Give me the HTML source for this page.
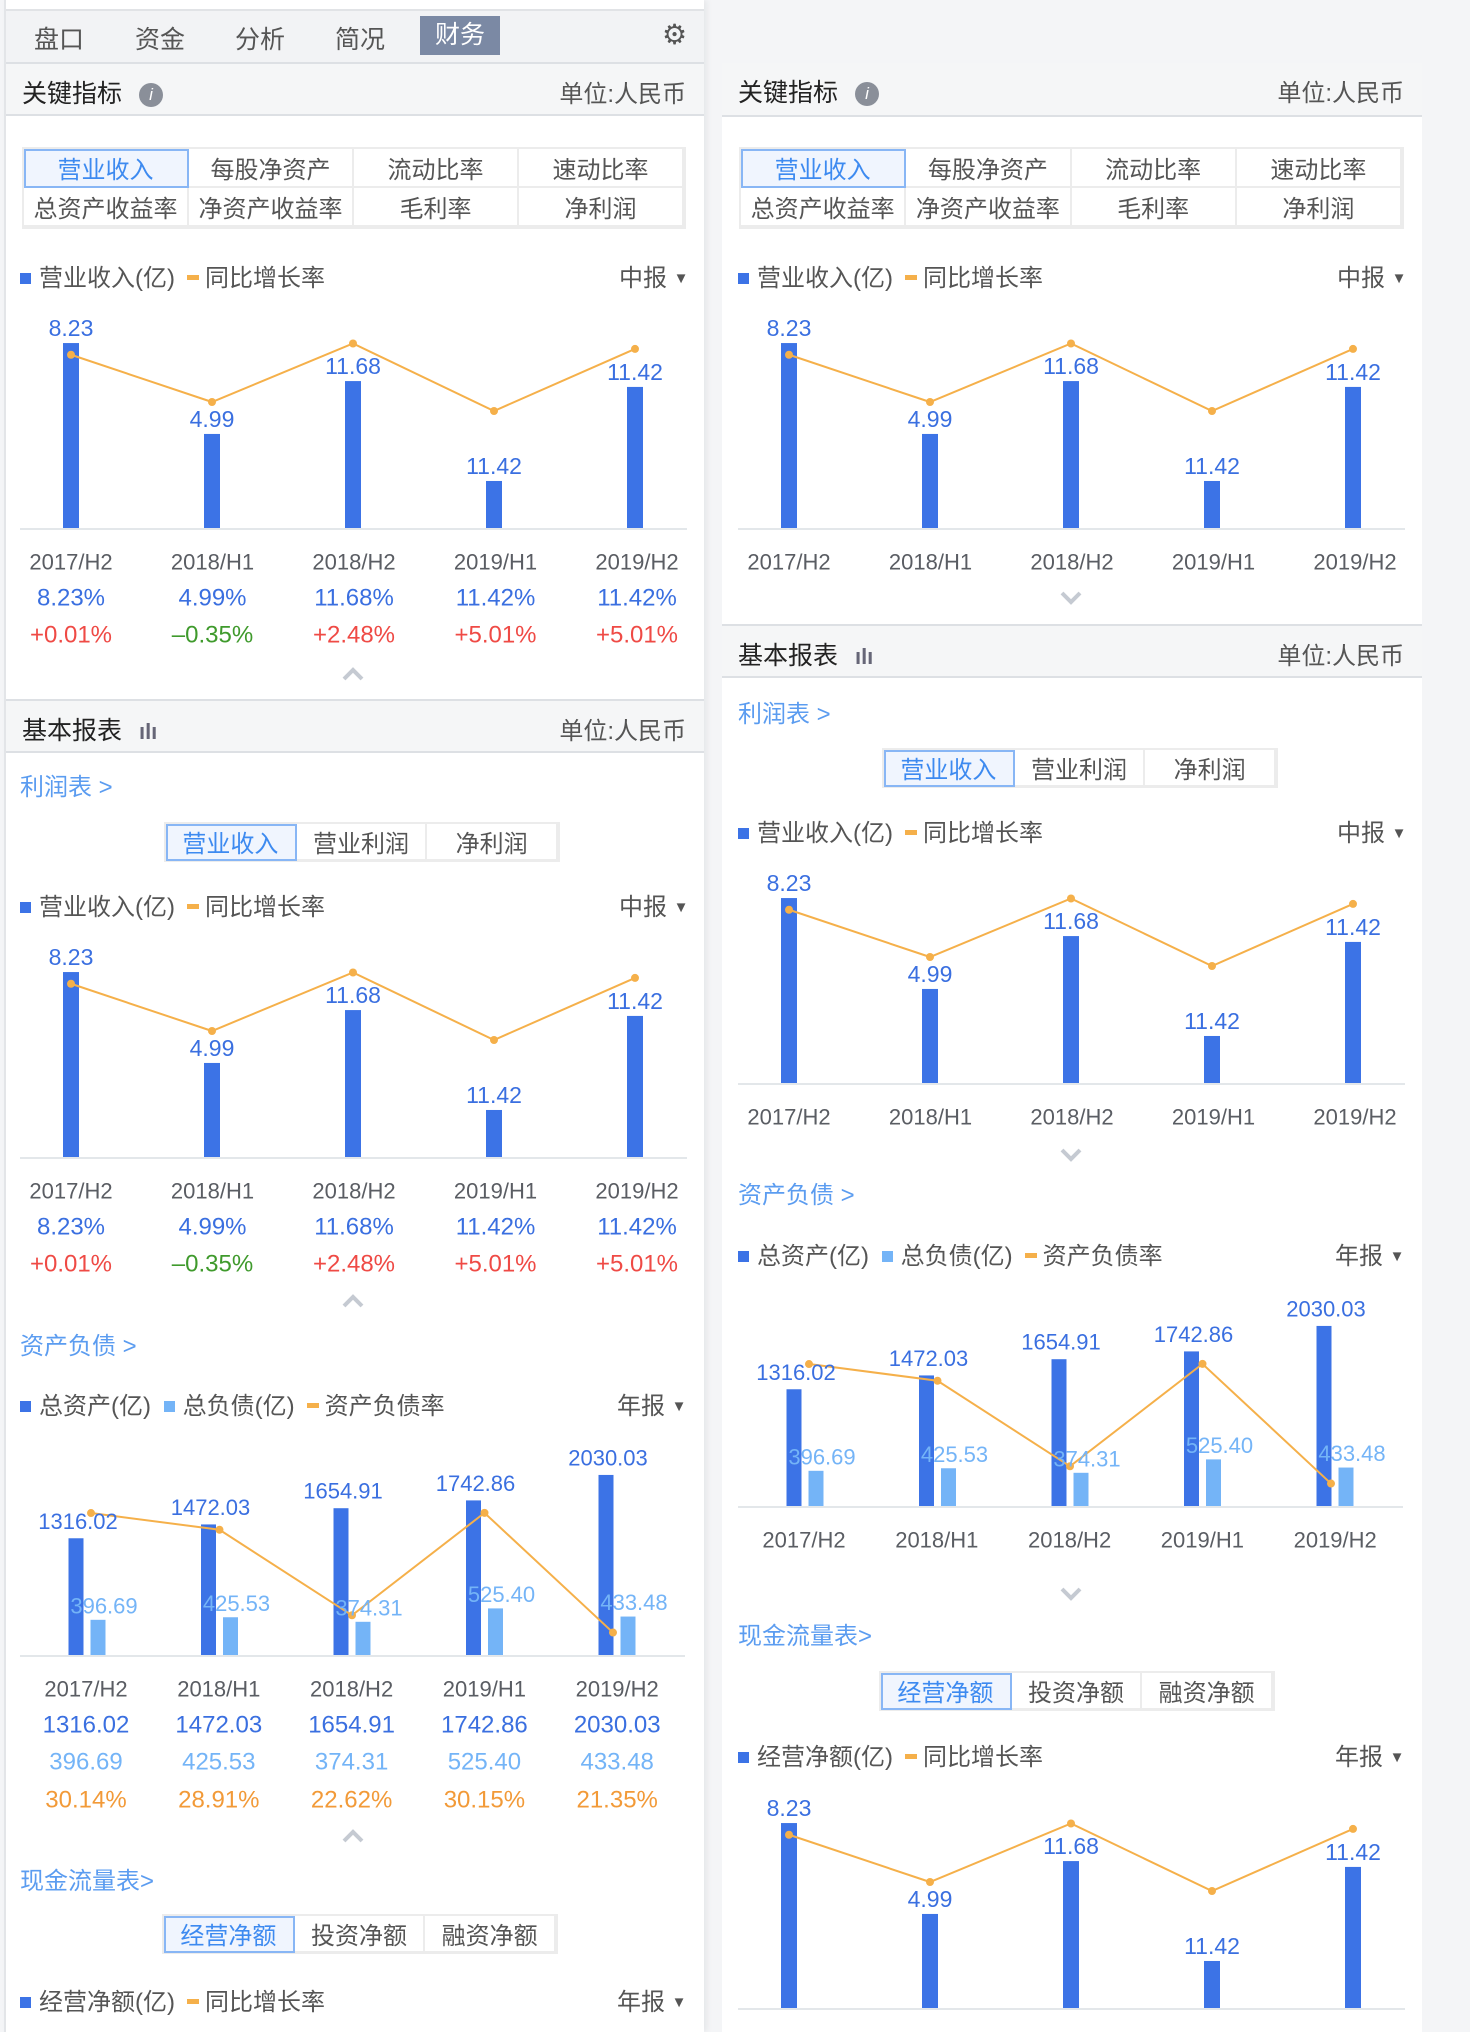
<!DOCTYPE html>
<html><head><meta charset="utf-8">
<style>
*{box-sizing:border-box;margin:0;padding:0}
body{width:1470px;height:2032px;position:relative;overflow:hidden;background:#f4f5f7;font-family:"Liberation Sans","Noto Sans CJK SC",sans-serif;color:#444}
.abs{position:absolute}
.panel{position:absolute;background:#fff}
.hdr{position:absolute;background:#f5f6f7;border-top:2px solid #dde0e4;border-bottom:2px solid #dde0e4;height:54px}
.hdr .t{position:absolute;left:16px;top:10px;font-size:25px;color:#222}
.hdr .u{position:absolute;right:18px;top:10px;font-size:24px;color:#555}
.grid{position:absolute;border:2px solid #ececec;display:grid;grid-template-columns:repeat(4,1fr);grid-template-rows:1fr 1fr}
.grid div,.seg div{display:flex;align-items:center;justify-content:center;font-size:24px;color:#555;border-right:2px solid #ececec;border-bottom:2px solid #ececec}
.sel{background:#f0f5fe;color:#3d8af0 !important;outline:2px solid #88b6f5;outline-offset:-2px}
.seg{position:absolute;border:2px solid #ececec;display:grid;grid-template-columns:1fr 1fr 1fr;height:40px;width:396px}
.link{position:absolute;font-size:24px;color:#5b9cf0}
.leg{position:absolute;font-size:24px;color:#555;white-space:nowrap}
.leg i{display:inline-block;width:11px;height:11px;margin-right:8px;vertical-align:2px}
.leg b{display:inline-block;width:12px;height:5px;background:#f5b04a;margin:0 6px 0 12px;vertical-align:6px}
.rpt{position:absolute;font-size:24px;color:#555}
.rpt span{font-size:15px;vertical-align:3px}
svg{position:absolute;left:0;top:0}
</style></head><body>
<div class="panel" style="left:4px;top:0;width:700px;height:2032px;border-left:2px solid #e3e5e8;box-shadow:3px 0 6px rgba(0,0,0,.06)"></div>
<div class="panel" style="left:722px;top:63px;width:700px;height:1969px"></div>

<div class="abs" style="left:6px;top:9px;width:698px;height:53px;background:#f2f3f5;border-top:2px solid #e1e3e6"></div>
<div class="abs" style="left:34px;top:20px;font-size:25px;color:#555">盘口</div>
<div class="abs" style="left:135px;top:20px;font-size:25px;color:#555">资金</div>
<div class="abs" style="left:235px;top:20px;font-size:25px;color:#555">分析</div>
<div class="abs" style="left:335px;top:20px;font-size:25px;color:#555">简况</div>
<div class="abs" style="left:420px;top:16px;width:80px;height:39px;background:#7b89a4;color:#fff;font-size:25px;text-align:center;line-height:39px">财务</div>
<div class="abs" style="left:662px;top:20px;font-size:28px;color:#555;line-height:30px">⚙</div>

<!-- LEFT -->
<div class="hdr" style="left:6px;top:62px;width:698px"><span class="t">关键指标 <span style="display:inline-block;width:24px;height:24px;border-radius:50%;background:#8a8f99;color:#fff;font-size:17px;text-align:center;line-height:24px;font-style:italic;margin-left:10px;vertical-align:2px">i</span></span><span class="u">单位:人民币</span></div>
<div class="grid" style="left:22px;top:147px;width:664px;height:82px">
<div class="sel">营业收入</div><div>每股净资产</div><div>流动比率</div><div>速动比率</div>
<div>总资产收益率</div><div>净资产收益率</div><div>毛利率</div><div>净利润</div></div>
<div class="leg" style="left:20px;top:258px"><i style="background:#3c73e6"></i>营业收入(亿)<b></b>同比增长率</div>
<div class="rpt" style="left:619px;top:258px">中报 <span>▼</span></div>

<div class="hdr" style="left:6px;top:699px;width:698px"><span class="t">基本报表 <span style="font-size:22px;color:#667;margin-left:10px;font-weight:bold">ılı</span></span><span class="u">单位:人民币</span></div>
<div class="link" style="left:20px;top:767px">利润表 &gt;</div>
<div class="seg" style="left:164px;top:822px"><div class="sel">营业收入</div><div>营业利润</div><div>净利润</div></div>
<div class="leg" style="left:20px;top:887px"><i style="background:#3c73e6"></i>营业收入(亿)<b></b>同比增长率</div>
<div class="rpt" style="left:619px;top:887px">中报 <span>▼</span></div>
<div class="link" style="left:20px;top:1326px">资产负债 &gt;</div>
<div class="leg" style="left:20px;top:1386px"><i style="background:#3c73e6"></i>总资产(亿) <i style="background:#74b4f7;margin-left:6px"></i>总负债(亿)<b></b>资产负债率</div>
<div class="rpt" style="left:617px;top:1386px">年报 <span>▼</span></div>
<div class="link" style="left:20px;top:1861px">现金流量表&gt;</div>
<div class="seg" style="left:162px;top:1914px"><div class="sel">经营净额</div><div>投资净额</div><div>融资净额</div></div>
<div class="leg" style="left:20px;top:1982px"><i style="background:#3c73e6"></i>经营净额(亿)<b></b>同比增长率</div>
<div class="rpt" style="left:617px;top:1982px">年报 <span>▼</span></div>

<!-- RIGHT -->
<div class="hdr" style="left:722px;top:63px;width:700px;border-top:none"><span class="t">关键指标 <span style="display:inline-block;width:24px;height:24px;border-radius:50%;background:#8a8f99;color:#fff;font-size:17px;text-align:center;line-height:24px;font-style:italic;margin-left:10px;vertical-align:2px">i</span></span><span class="u">单位:人民币</span></div>
<div class="grid" style="left:739px;top:147px;width:665px;height:82px">
<div class="sel">营业收入</div><div>每股净资产</div><div>流动比率</div><div>速动比率</div>
<div>总资产收益率</div><div>净资产收益率</div><div>毛利率</div><div>净利润</div></div>
<div class="leg" style="left:738px;top:258px"><i style="background:#3c73e6"></i>营业收入(亿)<b></b>同比增长率</div>
<div class="rpt" style="left:1337px;top:258px">中报 <span>▼</span></div>
<div class="hdr" style="left:722px;top:624px;width:700px"><span class="t">基本报表 <span style="font-size:22px;color:#667;margin-left:10px;font-weight:bold">ılı</span></span><span class="u">单位:人民币</span></div>
<div class="link" style="left:738px;top:694px">利润表 &gt;</div>
<div class="seg" style="left:882px;top:748px"><div class="sel">营业收入</div><div>营业利润</div><div>净利润</div></div>
<div class="leg" style="left:738px;top:813px"><i style="background:#3c73e6"></i>营业收入(亿)<b></b>同比增长率</div>
<div class="rpt" style="left:1337px;top:813px">中报 <span>▼</span></div>
<div class="link" style="left:738px;top:1175px">资产负债 &gt;</div>
<div class="leg" style="left:738px;top:1236px"><i style="background:#3c73e6"></i>总资产(亿) <i style="background:#74b4f7;margin-left:6px"></i>总负债(亿)<b></b>资产负债率</div>
<div class="rpt" style="left:1335px;top:1236px">年报 <span>▼</span></div>
<div class="link" style="left:738px;top:1616px">现金流量表&gt;</div>
<div class="seg" style="left:879px;top:1671px"><div class="sel">经营净额</div><div>投资净额</div><div>融资净额</div></div>
<div class="leg" style="left:738px;top:1737px"><i style="background:#3c73e6"></i>经营净额(亿)<b></b>同比增长率</div>
<div class="rpt" style="left:1335px;top:1737px">年报 <span>▼</span></div>

<svg id="chart" width="1470" height="2032"></svg>
<script>
const categories=["2017/H2","2018/H1","2018/H2","2019/H1","2019/H2"];
const revenueBars=[8.22,4.18,6.53,2.09,6.27];
const revenueLabels=["8.23","4.99","11.68","11.42","11.42"];
const growthLine=[7.7,5.6,8.2,5.2,7.96];
const revenuePct=["8.23%","4.99%","11.68%","11.42%","11.42%"];
const revenueChange=["+0.01%","-0.35%","+2.48%","+5.01%","+5.01%"];
const totalAssets=[1316.02,1472.03,1654.91,1742.86,2030.03];
const totalLiab=[396.69,425.53,374.31,525.40,433.48];
const debtRatio=[30.14,28.91,22.62,30.15,21.35];
const debtRatioLabels=["30.14%","28.91%","22.62%","30.15%","21.35%"];

const NS="http://www.w3.org/2000/svg";
const svg=document.getElementById('chart');
function mk(tag,attrs,parent){const e=document.createElementNS(NS,tag);for(const k in attrs)e.setAttribute(k,attrs[k]);(parent||svg).appendChild(e);return e;}
function txt(x,y,s,size,color,name){const t=mk('text',{x:x,y:y,'font-size':size,fill:color,'text-anchor':'middle','dominant-baseline':'central','font-family':'Liberation Sans, Noto Sans CJK SC, sans-serif'});t.textContent=s;


return t;}
function caret(x,y,up,name){const p=mk('path',{d:up?`M${x-9} ${y+5}L${x} ${y-4}L${x+9} ${y+5}`:`M${x-9} ${y-5}L${x} ${y+4}L${x+9} ${y-5}`,stroke:'#c5cad2','stroke-width':4,fill:'none'});

}

function chartA(ox,base,full,tag){
  const xs=i=>ox+71+i*141;
  const yv=v=>base-v*22.5;
  const ax=mk('line',{x1:ox+20,x2:ox+687,y1:base+1,y2:base+1,stroke:'#e3e7ea','stroke-width':2});
  
  
  revenueBars.forEach((v,i)=>{
    const r=mk('rect',{x:xs(i)-8,y:yv(v),width:16,height:base-yv(v),fill:'#3c73e6'});
    
    
    txt(xs(i),yv(v)-15,revenueLabels[i],23,'#3a6fe0','bar-label-'+tag+'-'+i);
  });
  const pts=growthLine.map((v,i)=>xs(i)+','+yv(v)).join(' ');
  const pl=mk('polyline',{points:pts,fill:'none',stroke:'#f5b04a','stroke-width':2});
  
  
  growthLine.forEach((v,i)=>{const c=mk('circle',{cx:xs(i),cy:yv(v),r:4,fill:'#f5b04a'});
    
    });
  categories.forEach((c,i)=>{
    const cx=ox+71+i*141.5;
    txt(cx,base+34,c,22,'#5a5d63','category-'+tag+'-'+i);
    if(full){
      txt(cx,base+70,revenuePct[i],24,'#3a6fe0','pct-'+tag+'-'+i);
      const ch=revenueChange[i];
      txt(cx,base+107,ch.replace('-','–'),24,ch[0]==='-'?'#3f9a2c':'#ef4a45','change-'+tag+'-'+i);
    }
  });
}
function chartB(ox,base,full,tag){
  const xs=i=>ox+76+i*132.5;
  const yv=v=>base-v*0.0887;
  const yr=v=>base-(v-19.7)*13.6;
  const ax=mk('line',{x1:ox+20,x2:ox+685,y1:base+1,y2:base+1,stroke:'#e3e7ea','stroke-width':2});
  
  
  totalAssets.forEach((v,i)=>{
    const r=mk('rect',{x:xs(i)-7.5,y:yv(v),width:15,height:base-yv(v),fill:'#3c73e6'});
    
    
    const l=totalLiab[i];
    const r2=mk('rect',{x:xs(i)+14.5,y:yv(l),width:15,height:base-yv(l),fill:'#74b4f7'});
    
    
  });
  const px=i=>xs(i)+(i===0?15:i===4?7:11);
  const pts=debtRatio.map((v,i)=>px(i)+','+yr(v)).join(' ');
  const pl=mk('polyline',{points:pts,fill:'none',stroke:'#f5b04a','stroke-width':2});
  
  
  debtRatio.forEach((v,i)=>{const c=mk('circle',{cx:px(i),cy:yr(v),r:4,fill:'#f5b04a'});
    
    });
  totalAssets.forEach((v,i)=>{
    txt(xs(i)+2,yv(v)-17,v.toFixed(2),22,'#3a6fe0','assets-label-'+tag+'-'+i);
    txt(xs(i)+28,yv(totalLiab[i])-14,totalLiab[i].toFixed(2),22,'#74b4f7','liab-label-'+tag+'-'+i);
  });
  categories.forEach((c,i)=>{
    const cx=ox+86+i*132.8;
    txt(cx,base+34,c,22,'#5a5d63','category-'+tag+'-'+i);
    if(full){
      txt(cx,base+70,totalAssets[i].toFixed(2),24,'#3a6fe0','assets-val-'+tag+'-'+i);
      txt(cx,base+107,totalLiab[i].toFixed(2),24,'#74b4f7','liab-val-'+tag+'-'+i);
      txt(cx,base+145,debtRatioLabels[i],24,'#f29a38','ratio-val-'+tag+'-'+i);
    }
  });
}
chartA(0,528,true,'l1'); caret(353,674,true,'collapse-l1');
chartA(0,1157,true,'l2'); caret(353,1301,true,'collapse-l2');
chartB(0,1655,true,'l3'); caret(353,1836,true,'collapse-l3');
chartA(718,528,false,'r1'); caret(1071,598,false,'expand-r1');
chartA(718,1083,false,'r2'); caret(1071,1155,false,'expand-r2');
chartB(718,1506,false,'r3'); caret(1071,1594,false,'expand-r3');
chartA(718,2008,false,'r4');
</script>
</body></html>
